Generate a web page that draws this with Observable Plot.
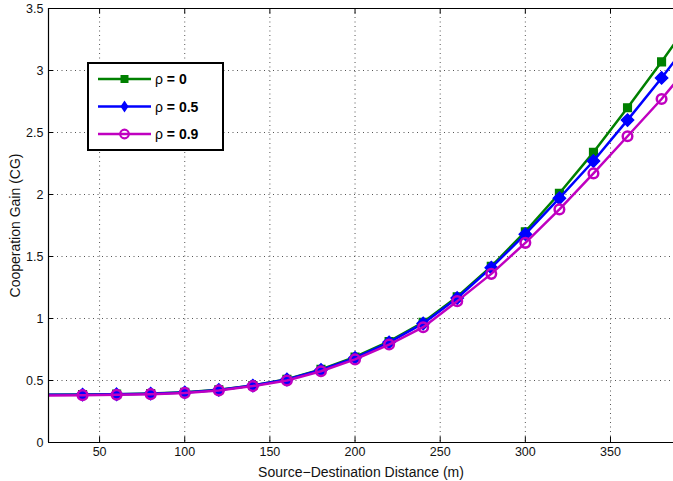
<!DOCTYPE html>
<html><head><meta charset="utf-8">
<script src="https://cdn.jsdelivr.net/npm/d3@7"></script>
<script src="https://cdn.jsdelivr.net/npm/@observablehq/plot@0.6"></script>
<style>
body{margin:0;background:#fff;font-family:"Liberation Sans",Arial,sans-serif;}
#wrap{position:relative;width:673px;height:481px;}
#legend{position:absolute;left:87px;top:62px;width:133px;height:85px;border:2.5px solid #000;background:#fff;}
#wrap svg [aria-label="x-axis label"] text, #wrap svg [aria-label="y-axis label"] text{font-size:14px;fill:#111;}
</style></head><body>
<div id="wrap"><div id="legend"></div></div>
<script>
const distances = [20,40,60,80,100,120,140,160,180,200,220,240,260,280,300,320,340,360,380,400];
const cgRho0  = [0.385,0.387,0.39,0.395,0.405,0.425,0.46,0.51,0.59,0.69,0.815,0.97,1.175,1.42,1.70,2.01,2.34,2.70,3.07,3.46];
const cgRho05 = [0.385,0.386,0.389,0.394,0.404,0.424,0.459,0.508,0.585,0.683,0.808,0.96,1.165,1.41,1.68,1.97,2.27,2.60,2.94,3.30];
const cgRho09 = [0.38,0.382,0.385,0.39,0.40,0.42,0.455,0.50,0.575,0.67,0.79,0.93,1.14,1.36,1.61,1.88,2.17,2.47,2.77,3.10];
const seriesNames = ["ρ = 0","ρ = 0.5","ρ = 0.9"];
const seriesColors = ["#008000","#0000ff","#c000c0"];
const xTicks = [50,100,150,200,250,300,350];
const yTicks = [0,0.5,1,1.5,2,2.5,3,3.5];

const rows = [];
[cgRho0,cgRho05,cgRho09].forEach((vals,k)=>distances.forEach((d,i)=>rows.push({series:seriesNames[k],x:d,y:vals[i]})));
const s0 = rows.filter(r=>r.series===seriesNames[0]);
const s1 = rows.filter(r=>r.series===seriesNames[1]);
const s2 = rows.filter(r=>r.series===seriesNames[2]);
const vis = r=>r.x>20;

const grid = {stroke:"#555",strokeDasharray:"1,3.5",strokeWidth:1};
const chart = Plot.plot({
  width:673,height:481,
  marginLeft:48,marginRight:0,marginTop:8,marginBottom:39,
  style:{fontFamily:"Liberation Sans, Arial, sans-serif",fontSize:"12.5px",color:"#111",background:"#fff"},
  x:{domain:[20,387],ticks:xTicks,tickSize:0,tickPadding:5,label:"Source−Destination Distance (m)",labelArrow:"none",labelAnchor:"center",labelOffset:34},
  y:{domain:[0,3.5],ticks:yTicks,tickSize:0,tickPadding:5,tickFormat:d=>String(d),label:"Cooperation Gain (CG)",labelArrow:"none",labelAnchor:"center",labelOffset:38},
  marks:[
    Plot.ruleX(xTicks,{...grid}),
    Plot.ruleY(yTicks.filter(v=>v>0&&v<3.5),{...grid}),
    Plot.ruleX(xTicks,{x:d=>d,y1:0,y2:0.045,stroke:"#000"}),
    Plot.ruleX(xTicks,{x:d=>d,y1:3.5,y2:3.455,stroke:"#000"}),
    Plot.ruleY(yTicks,{y:d=>d,x1:20,x2:23,stroke:"#000"}),
    Plot.line(s0,{x:"x",y:"y",stroke:seriesColors[0],strokeWidth:2.5,clip:true}),
    Plot.dot(s0.filter(vis),{x:"x",y:"y",symbol:"square",r:4.3,fill:seriesColors[0],stroke:seriesColors[0],clip:true}),
    Plot.line(s1,{x:"x",y:"y",stroke:seriesColors[1],strokeWidth:2.5,clip:true}),
    Plot.dot(s1.filter(vis),{x:"x",y:"y",symbol:"diamond2",r:5.5,fill:seriesColors[1],stroke:seriesColors[1],clip:true}),
    Plot.line(s2,{x:"x",y:"y",stroke:seriesColors[2],strokeWidth:2.5,clip:true}),
    Plot.dot(s2.filter(vis),{x:"x",y:"y",r:4.8,fill:"none",stroke:seriesColors[2],strokeWidth:2.5,clip:true}),
    Plot.ruleX([20],{stroke:"#000",strokeWidth:1.2}),
    Plot.ruleY([0],{stroke:"#000",strokeWidth:1.2}),
    Plot.ruleY([3.5],{stroke:"#000",strokeWidth:1.2})
  ]
});
document.getElementById("wrap").prepend(chart);

// legend
const lg = d3.select("#legend").append("svg").attr("width",133).attr("height",85);
seriesNames.forEach((name,k)=>{
  const y = 15 + k*27.5;
  const g = lg.append("g");
  g.append("line").attr("x1",9).attr("x2",62).attr("y1",y).attr("y2",y).attr("stroke",seriesColors[k]).attr("stroke-width",2.5);
  if(k===0) g.append("rect").attr("x",31.5).attr("y",y-4).attr("width",8).attr("height",8).attr("fill",seriesColors[k]);
  if(k===1) g.append("path").attr("d",`M35.5,${y-6}L39.5,${y}L35.5,${y+6}L31.5,${y}Z`).attr("fill",seriesColors[k]);
  if(k===2) g.append("circle").attr("cx",35.5).attr("cy",y).attr("r",4.3).attr("fill","none").attr("stroke",seriesColors[k]).attr("stroke-width",2.2);
  const t = g.append("text").attr("x",66).attr("y",y+5).attr("font-size","14px").attr("font-family","Liberation Sans, Arial, sans-serif");
  t.append("tspan").text("ρ ");
  t.append("tspan").attr("font-weight","bold").text(name.slice(2));
});
</script>
</body></html>
